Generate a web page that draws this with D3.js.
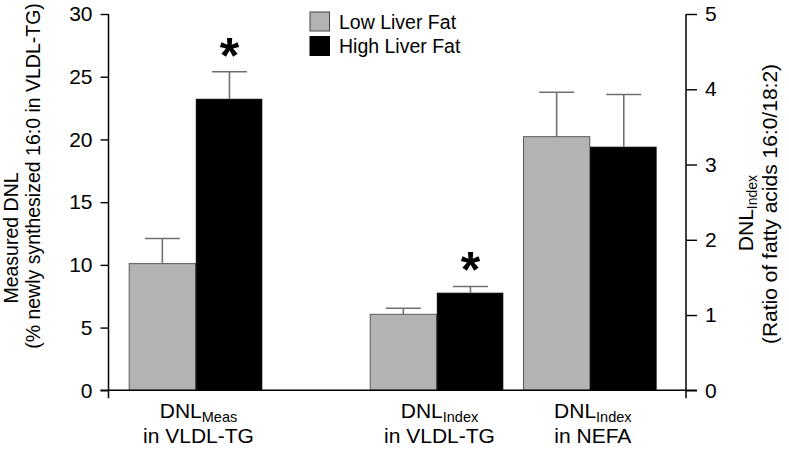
<!DOCTYPE html>
<html><head><meta charset="utf-8">
<script src="https://cdn.jsdelivr.net/npm/d3@7"></script>
<style>
html,body{margin:0;padding:0;background:#fff;}
text{font-family:"Liberation Sans",Arial,sans-serif;fill:#000;}
</style></head>
<body><svg id="chart" width="789" height="456"></svg>
<script>
// ---- data ----
const groups = ["meas_vldl", "index_vldl", "index_nefa"];
const groupLabelMain = ["DNL", "DNL", "DNL"];
const groupLabelSub = ["Meas", "Index", "Index"];
const groupLabelLine2 = ["in VLDL-TG", "in VLDL-TG", "in NEFA"];
const groupAxis = ["left", "right", "right"];
const seriesNames = ["Low Liver Fat", "High Liver Fat"];
const lowValues = [10.1, 1.01, 3.37];
const lowErrors = [2.0, 0.08, 0.59];
const highValues = [23.2, 1.29, 3.23];
const highErrors = [2.2, 0.09, 0.70];
const significant = [true, true, false]; // asterisk over High bar
const leftTicks = [0, 5, 10, 15, 20, 25, 30];
const rightTicks = [0, 1, 2, 3, 4, 5];

// ---- layout ----
const svg = d3.select("#chart");
const yTop = 14, yBase = 390.3;
const leftX = 108.5, rightX = 686;
const barW = 66.3;
const colors = ["#b3b3b3", "#000000"];

const yL = d3.scaleLinear().domain([0, 30]).range([yBase, yTop]);
const yR = d3.scaleLinear().domain([0, 5]).range([yBase, yTop]);
const xC = d3.scaleOrdinal().domain(groups).range([195.5, 436.5, 589.8]);
const ys = g => groupAxis[groups.indexOf(g)] === "left" ? yL : yR;

// axes
const gL = svg.append("g").attr("transform", `translate(${leftX},0)`)
  .call(d3.axisLeft(yL).tickValues(leftTicks).tickFormat(d3.format("d")).tickSize(8).tickSizeOuter(0).tickPadding(8));
const gR = svg.append("g").attr("transform", `translate(${rightX},0)`)
  .call(d3.axisRight(yR).tickValues(rightTicks).tickFormat(d3.format("d")).tickSize(11).tickSizeOuter(0).tickPadding(8));
[gL, gR].forEach(g => {
  g.select(".domain").remove();
  g.selectAll(".tick line").attr("stroke", "#000").attr("stroke-width", 1.4);
  g.selectAll(".tick text").attr("font-size", 21).attr("fill", "#000")
    .style("font-family", '"Liberation Sans",Arial,sans-serif');
});
// vertical axis lines extending below baseline
svg.append("line").attr("x1", leftX).attr("x2", leftX).attr("y1", yTop).attr("y2", yBase + 8)
  .attr("stroke", "#000").attr("stroke-width", 1.5);
svg.append("line").attr("x1", rightX).attr("x2", rightX).attr("y1", yTop).attr("y2", yBase + 8)
  .attr("stroke", "#000").attr("stroke-width", 1.5);

// bars
const rows = [];
groups.forEach((g, i) => {
  rows.push({g, s: 0, v: lowValues[i], e: lowErrors[i]});
  rows.push({g, s: 1, v: highValues[i], e: highErrors[i]});
});
const bx = d => d.s === 0 ? xC(d.g) - barW : xC(d.g) + 0.8;

svg.append("g").selectAll("rect").data(rows).join("rect")
  .attr("x", bx)
  .attr("y", d => ys(d.g)(d.v))
  .attr("width", d => d.s === 0 ? barW : barW - 0.8)
  .attr("height", d => yBase - ys(d.g)(d.v))
  .attr("fill", d => colors[d.s])
  .attr("stroke", d => d.s === 0 ? "#5a5a5a" : "#000")
  .attr("stroke-width", 1);

// error bars (upper only)
const eb = svg.append("g").attr("stroke", "#707070").attr("stroke-width", 1.6);
rows.forEach(d => {
  const cx = bx(d) + barW / 2;
  const y = ys(d.g);
  eb.append("line").attr("x1", cx).attr("x2", cx).attr("y1", y(d.v)).attr("y2", y(d.v + d.e));
  eb.append("line").attr("x1", cx - 17.5).attr("x2", cx + 17.5).attr("y1", y(d.v + d.e)).attr("y2", y(d.v + d.e));
});

// baseline
svg.append("line").attr("x1", leftX - 8).attr("x2", rightX + 11).attr("y1", yBase).attr("y2", yBase)
  .attr("stroke", "#000").attr("stroke-width", 1.5);

// significance asterisks
rows.filter(d => d.s === 1 && significant[groups.indexOf(d.g)]).forEach(d => {
  const y = ys(d.g);
  svg.append("text").attr("x", bx(d) + barW / 2).attr("y", y(d.v + d.e) + 1)
    .attr("text-anchor", "middle").attr("font-size", 50).attr("font-weight", "bold").text("*");
});

// x labels
groups.forEach((g, i) => {
  const t = svg.append("text").attr("x", xC(g) + 3).attr("y", 418).attr("text-anchor", "middle").attr("font-size", 21);
  t.append("tspan").text(groupLabelMain[i]);
  t.append("tspan").attr("font-size", 14.5).attr("dy", 3.5).text(groupLabelSub[i]);
  svg.append("text").attr("x", xC(g) + 3).attr("y", 442.5).attr("text-anchor", "middle").attr("font-size", 21)
    .text(groupLabelLine2[i]);
});

// legend
seriesNames.forEach((n, i) => {
  svg.append("rect").attr("x", 310).attr("y", 12 + i * 24.5).attr("width", 19.5).attr("height", 19)
    .attr("fill", colors[i]).attr("stroke", i === 0 ? "#444" : "#000").attr("stroke-width", 1);
  svg.append("text").attr("x", 339).attr("y", 28.5 + i * 24.5).attr("font-size", 19.5).text(n);
});

// left y title
svg.append("text").attr("transform", "translate(18,238) rotate(-90)").attr("text-anchor", "middle")
  .attr("font-size", 19.5).text("Measured DNL");
svg.append("text").attr("transform", "translate(40,176) rotate(-90)").attr("text-anchor", "middle")
  .attr("font-size", 19.5).text("(% newly synthesized 16:0 in VLDL-TG)");

// right y title
const rt = svg.append("text").attr("transform", "translate(753,213) rotate(-90)").attr("text-anchor", "middle")
  .attr("font-size", 21);
rt.append("tspan").text("DNL");
rt.append("tspan").attr("font-size", 14).attr("dy", 4).text("Index");
svg.append("text").attr("transform", "translate(777,204) rotate(-90)").attr("text-anchor", "middle")
  .attr("font-size", 21).text("(Ratio of fatty acids 16:0/18:2)");
</script></body></html>
